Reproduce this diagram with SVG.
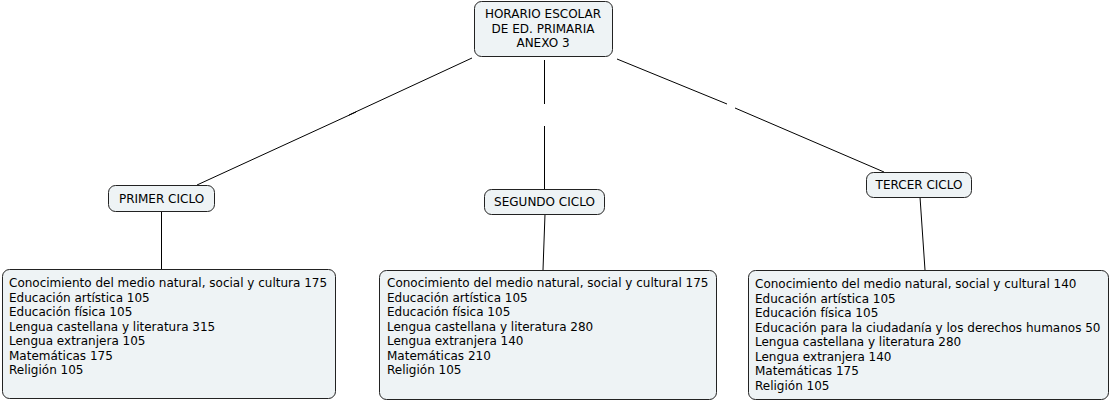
<svg xmlns="http://www.w3.org/2000/svg" width="1111" height="403" viewBox="0 0 1111 403">
<style>
.box{fill:#eef3f5;stroke:#222;stroke-width:1}
.t{font-family:"DejaVu Sans",Verdana,sans-serif;font-size:12px;fill:#000}
.c{text-anchor:middle}
.ln{stroke:#000;stroke-width:1;fill:none}
</style>
<rect width="1111" height="403" fill="#fff"/>
<g id="connectors">
<line class="ln" x1="472" y1="58" x2="349" y2="115"/>
<line class="ln" x1="356" y1="112" x2="197" y2="185"/>
<line class="ln" x1="544.5" y1="60" x2="544.5" y2="104"/>
<line class="ln" x1="544.5" y1="126" x2="544.5" y2="189"/>
<line class="ln" x1="617" y1="59" x2="727" y2="104"/>
<line class="ln" x1="735" y1="108" x2="884" y2="172"/>
<line class="ln" x1="161.5" y1="211" x2="161.5" y2="269"/>
<line class="ln" x1="545" y1="214" x2="543" y2="270"/>
<line class="ln" x1="920" y1="197" x2="925" y2="270"/>
</g>
<g id="root">
<rect class="box" x="474.5" y="1.5" width="138" height="55" rx="7"/>
<text class="t c" x="543" y="18">HORARIO ESCOLAR</text>
<text class="t c" x="543" y="33">DE ED. PRIMARIA</text>
<text class="t c" x="543" y="47">ANEXO 3</text>
</g>
<g id="primer">
<rect class="box" x="108.5" y="185.5" width="106" height="26" rx="7"/>
<text class="t c" x="161.5" y="203">PRIMER CICLO</text>
</g>
<g id="segundo">
<rect class="box" x="484.5" y="189.5" width="120" height="25" rx="7"/>
<text class="t c" x="544.5" y="206">SEGUNDO CICLO</text>
</g>
<g id="tercer">
<rect class="box" x="866.5" y="172.5" width="105" height="25" rx="7"/>
<text class="t c" x="919" y="189">TERCER CICLO</text>
</g>
<g id="list1">
<rect class="box" x="2.5" y="269.5" width="333" height="129" rx="7"/>
<text class="t" x="9" y="287">Conocimiento del medio natural, social y cultura 175</text>
<text class="t" x="9" y="301.5">Educación artística 105</text>
<text class="t" x="9" y="316">Educación física 105</text>
<text class="t" x="9" y="330.5">Lengua castellana y literatura 315</text>
<text class="t" x="9" y="345">Lengua extranjera 105</text>
<text class="t" x="9" y="359.5">Matemáticas 175</text>
<text class="t" x="9" y="374">Religión 105</text>
</g>
<g id="list2">
<rect class="box" x="379.5" y="270.5" width="337" height="129" rx="7"/>
<text class="t" x="387" y="287">Conocimiento del medio natural, social y cultural 175</text>
<text class="t" x="387" y="301.5">Educación artística 105</text>
<text class="t" x="387" y="316">Educación física 105</text>
<text class="t" x="387" y="330.5">Lengua castellana y literatura 280</text>
<text class="t" x="387" y="345">Lengua extranjera 140</text>
<text class="t" x="387" y="359.5">Matemáticas 210</text>
<text class="t" x="387" y="374">Religión 105</text>
</g>
<g id="list3">
<rect class="box" x="748.5" y="270.5" width="360" height="129" rx="7"/>
<text class="t" x="755" y="288">Conocimiento del medio natural, social y cultural 140</text>
<text class="t" x="755" y="302.5">Educación artística 105</text>
<text class="t" x="755" y="317">Educación física 105</text>
<text class="t" x="755" y="331.5">Educación para la ciudadanía y los derechos humanos 50</text>
<text class="t" x="755" y="346">Lengua castellana y literatura 280</text>
<text class="t" x="755" y="360.5">Lengua extranjera 140</text>
<text class="t" x="755" y="375">Matemáticas 175</text>
<text class="t" x="755" y="389.5">Religión 105</text>
</g>
</svg>
